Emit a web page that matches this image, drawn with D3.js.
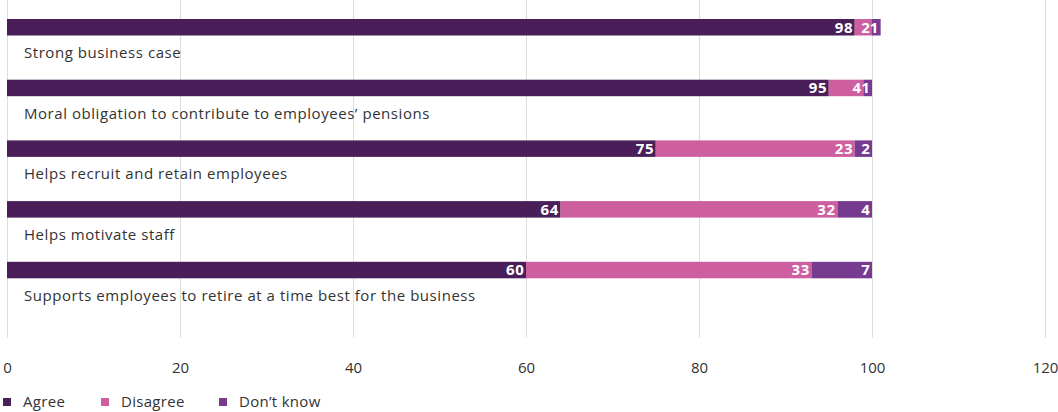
<!DOCTYPE html>
<html>
<head>
<meta charset="utf-8">
<script src="https://cdn.jsdelivr.net/npm/d3@7"></script>
<style>
  html, body { margin: 0; padding: 0; background: #fff; }
  svg { display: block; }
  .cat { font-family: "Open Sans", sans-serif; font-size: 15px; fill: #333; letter-spacing: 0.55px; }
  .val { font-family: "Open Sans", sans-serif; font-weight: 700; font-size: 15px; fill: #fff; letter-spacing: 0.7px; }
  .tick text { font-family: "Open Sans", sans-serif; font-size: 15px; fill: #333; }
  .leg { font-family: "Open Sans", sans-serif; font-size: 15px; fill: #333; letter-spacing: 0.3px; }
</style>
</head>
<body>
<svg id="chart" width="1058" height="412"></svg>
<script>
// Survey statements and the share of employers giving each answer (%)
const categories = [
  "Strong business case",
  "Moral obligation to contribute to employees’ pensions",
  "Helps recruit and retain employees",
  "Helps motivate staff",
  "Supports employees to retire at a time best for the business"
];
const agree    = [98, 95, 75, 64, 60];
const disagree = [2, 4, 23, 32, 33];
const dontKnow = [1, 1, 2, 4, 7];
const seriesNames = ["Agree", "Disagree", "Don’t know"];
const xTicks = [0, 20, 40, 60, 80, 100, 120];

const colors = ["#4a1f59", "#cd5e9f", "#763a8f"];

const svg = d3.select("#chart");
const x = d3.scaleLinear().domain([0, 120]).range([7, 1045]);
const y = d3.scaleBand().domain(categories).range([0, 303.5]);
const barTop = 19, barH = 16.5, gridBottom = 338;

// gridlines
svg.append("g").selectAll("line").data(xTicks).join("line")
  .attr("x1", d => x(d)).attr("x2", d => x(d))
  .attr("y1", 0).attr("y2", gridBottom)
  .attr("stroke", "#dedede").attr("stroke-width", 1)
  .attr("shape-rendering", "crispEdges");

// axis labels
const axis = d3.axisBottom(x).tickValues(xTicks).tickSize(0).tickPadding(0);
const ax = svg.append("g").attr("transform", `translate(0,${gridBottom + 24})`).call(axis);
ax.select(".domain").remove();

// stacked segments
const rows = categories.map((c, i) => ({ cat: c, vals: [agree[i], disagree[i], dontKnow[i]] }));
rows.forEach(r => {
  let acc = 0;
  r.segs = r.vals.map((v, k) => { const s = { k, v, x0: acc, x1: acc + v }; acc += v; return s; });
});

const g = svg.append("g");
const row = g.selectAll("g.row").data(rows).join("g").attr("class", "row")
  .attr("transform", d => `translate(0,${y(d.cat)})`);

row.selectAll("rect").data(d => d.segs).join("rect")
  .attr("x", d => x(d.x0))
  .attr("width", d => x(d.x1) - x(d.x0))
  .attr("y", barTop).attr("height", barH)
  .attr("fill", d => colors[d.k]);

row.selectAll("text.val").data(d => d.segs).join("text").attr("class", "val")
  .attr("x", d => x(d.x1) - 1.5)
  .attr("y", barTop + barH / 2)
  .attr("dy", "0.36em")
  .attr("text-anchor", "end")
  .text(d => d.v);

row.append("text").attr("class", "cat")
  .attr("x", 24).attr("y", barTop + barH + 17)
  .attr("dy", "0.36em")
  .text(d => d.cat);

// legend
const legX = [3, 101, 219];
const leg = svg.append("g").selectAll("g").data(seriesNames).join("g")
  .attr("transform", (d, i) => `translate(${legX[i]},402)`);
leg.append("rect").attr("x", 0).attr("y", -4).attr("width", 8).attr("height", 8)
  .attr("fill", (d, i) => colors[i]);
leg.append("text").attr("class", "leg").attr("x", 20).attr("dy", "0.36em").text(d => d);
</script>
</body>
</html>
